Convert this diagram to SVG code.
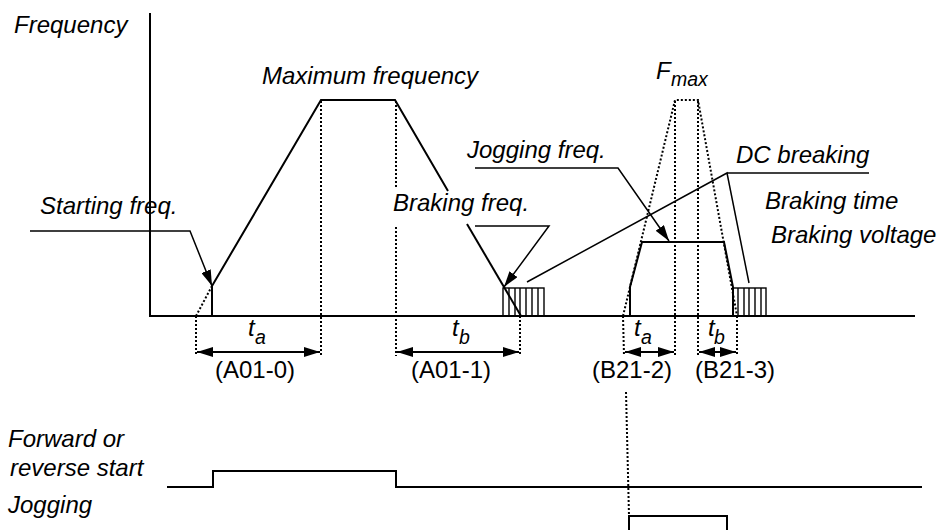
<svg xmlns="http://www.w3.org/2000/svg" width="937" height="530" viewBox="0 0 937 530">
<defs>
<style>
text{font-family:"Liberation Sans",Arial,sans-serif;font-style:italic;font-size:24px;fill:#000}
.up{font-style:normal}
.sub{font-size:19.5px}
.th{stroke:#000;stroke-width:2;fill:none}
.tn{stroke:#000;stroke-width:1.5;fill:none}
.dt{stroke:#000;stroke-width:2;fill:none;stroke-dasharray:2 2}
.hb{stroke:#000;stroke-width:1.4;fill:none}
</style>
<marker id="ah" viewBox="0 0 16 10" refX="16" refY="5" markerWidth="16" markerHeight="10" markerUnits="userSpaceOnUse" orient="auto-start-reverse">
<path d="M0,0 L16,5 L0,10 z" fill="#000"/>
</marker>
</defs>
<rect width="937" height="530" fill="#fff"/>

<g id="axes">
<line class="th" x1="150" y1="13" x2="150" y2="317"/>
<line class="th" x1="149" y1="316" x2="915" y2="316"/>
</g>

<g id="main-trace">
<polyline class="th" points="212,316 212,286 321,100 395,100 448,191"/>
<line class="th" x1="467" y1="224" x2="521" y2="316"/>
<line class="dt" x1="196" y1="316" x2="212" y2="286"/>
</g>

<g id="dc-brake-1">
<rect class="hb" x="503" y="288" width="41" height="28"/>
<path class="hb" d="M509,288V316M515,288V316M520,288V316M526,288V316M532,288V316M538,288V316"/>
</g>

<g id="jog-trace">
<polyline class="th" points="630,316 630,287 642,242 724,242 733,287 733,316"/>
</g>

<g id="dc-brake-2">
<rect class="hb" x="733" y="288" width="33" height="28"/>
<path class="hb" d="M738,288V316M744,288V316M749,288V316M755,288V316M761,288V316"/>
</g>

<g id="guides">
<line class="dt" x1="321" y1="101" x2="321" y2="356"/>
<line class="dt" x1="396" y1="101" x2="396" y2="188"/>
<line class="dt" x1="396" y1="227" x2="396" y2="356"/>
<line class="dt" x1="196" y1="316" x2="196" y2="356"/>
<line class="dt" x1="520" y1="316" x2="520" y2="356"/>
<polyline class="dt" points="623,316 675,100 698,100 737,316"/>
<line class="dt" x1="623" y1="316" x2="624" y2="356"/>
<line class="dt" x1="737" y1="316" x2="737" y2="356"/>
<line class="dt" x1="675" y1="101" x2="675" y2="356"/>
<line class="dt" x1="698" y1="101" x2="698" y2="356"/>
<line class="dt" x1="626" y1="392" x2="629" y2="516"/>
</g>

<g id="connectors">
<line class="th" x1="197" y1="352" x2="320" y2="352" marker-start="url(#ah)" marker-end="url(#ah)"/>
<line class="th" x1="397" y1="352" x2="519" y2="352" marker-start="url(#ah)" marker-end="url(#ah)"/>
<line class="th" x1="625" y1="352" x2="674" y2="352" marker-start="url(#ah)" marker-end="url(#ah)"/>
<line class="th" x1="699" y1="352" x2="736" y2="352" marker-start="url(#ah)" marker-end="url(#ah)"/>
<polyline class="tn" points="30,231 190,231 212,286" marker-end="url(#ah)"/>
<polyline class="tn" points="475,226 549,226 504,287" marker-end="url(#ah)"/>
<polyline class="tn" points="475,168 618,168 669,241" marker-end="url(#ah)"/>
<polyline class="tn" points="527,282 727,173 749,283"/>
<line class="tn" x1="727" y1="173" x2="869" y2="173"/>
</g>

<g id="labels">
<text x="14" y="33">Frequency</text>
<text x="262" y="84">Maximum frequency</text>
<text x="656" y="79">F</text><text class="sub" x="671" y="86">max</text>
<text x="467" y="158">Jogging freq.</text>
<text x="736" y="163">DC breaking</text>
<text x="765" y="209">Braking time</text>
<text x="771" y="243">Braking voltage</text>
<text x="40" y="214">Starting freq.</text>
<text x="393" y="211">Braking freq.</text>
<text x="248" y="336">t</text><text class="sub" x="255" y="344">a</text>
<text x="452" y="336">t</text><text class="sub" x="459" y="344">b</text>
<text x="634" y="336">t</text><text class="sub" x="641" y="344">a</text>
<text x="708" y="336">t</text><text class="sub" x="714" y="344">b</text>
<text class="up" x="255" y="378" text-anchor="middle">(A01-0)</text>
<text class="up" x="451" y="378" text-anchor="middle">(A01-1)</text>
<text class="up" x="592" y="378">(B21-2)</text>
<text class="up" x="695" y="378">(B21-3)</text>
<text x="8" y="447">Forward or</text>
<text x="10" y="476">reverse start</text>
<text x="8" y="513">Jogging</text>
</g>

<g id="signals">
<polyline class="th" points="167,487 213,487 213,471 396,471 396,487 922,487"/>
<polyline class="th" points="629,532 629,516 727,516 727,532"/>
</g>
</svg>
